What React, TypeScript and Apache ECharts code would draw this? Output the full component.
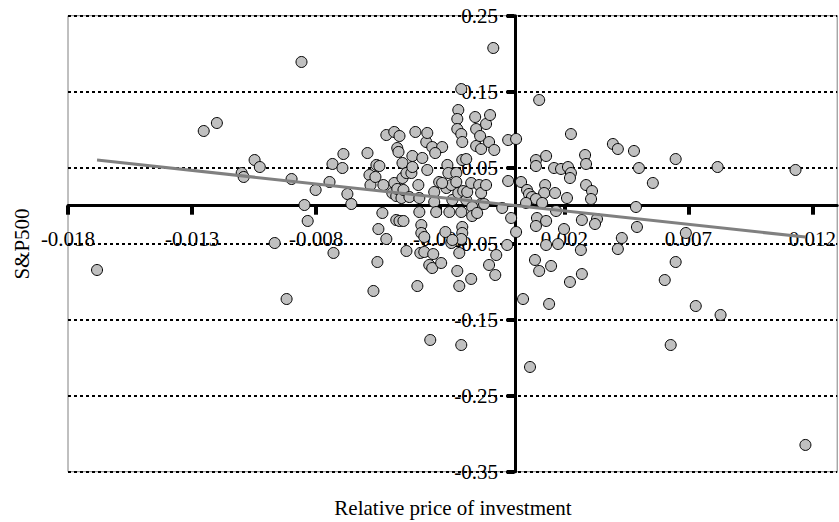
import React, { useEffect, useRef } from "react";
import * as echarts from "echarts";

// Relative price of investment (x) vs S&P500 (y)
const points: [number, number][] = [
  [-0.01683, -0.0846], [-0.01253, 0.0983], [-0.012, 0.1088], [-0.011, 0.043], [-0.01092, 0.0378],
  [-0.01048, 0.0601], [-0.01027, 0.0509], [-0.00967, -0.0491], [-0.00919, -0.1228], [-0.00899, 0.0351],
  [-0.00859, 0.1891], [-0.00847, 0.0009], [-0.00834, -0.0201], [-0.00802, 0.0207],
  [-0.00746, 0.0312], [-0.00734, 0.0549], [-0.0069, 0.068], [-0.00694, 0.0496], [-0.00674, 0.0154],
  [-0.00658, 0.0022], [-0.00593, 0.0693], [-0.00585, 0.0404], [-0.00581, 0.0272], [-0.00561, 0.0378],
  [-0.00557, 0.0536], [-0.00545, 0.0522], [-0.00517, 0.093], [-0.00485, 0.097], [-0.00464, 0.0917],
  [-0.00473, 0.0759], [-0.00468, 0.0707], [-0.00485, 0.0299], [-0.00529, 0.0272], [-0.00493, 0.0167],
  [-0.00477, 0.0128], [-0.00473, 0.022], [-0.00456, 0.0101], [-0.00452, 0.0562], [-0.00452, 0.0364],
  [-0.00436, 0.043], [-0.00448, 0.0207], [-0.00424, 0.0114], [-0.00416, 0.043], [-0.00412, 0.0654],
  [-0.00412, 0.0509], [-0.004, 0.097], [-0.00388, 0.0272], [-0.00384, 0.0101], [-0.00372, 0.0628],
  [-0.00356, 0.0838], [-0.00352, 0.0957], [-0.00352, 0.047],
  [-0.00332, 0.0772], [-0.00292, 0.0772], [-0.0032, 0.0693], [-0.00271, 0.0536], [-0.00324, 0.018],
  [-0.00304, 0.0312], [-0.00275, 0.0233], [-0.00267, 0.043], [-0.00251, 0.0075], [-0.00255, 0.0272],
  [-0.00235, 0.043], [-0.00235, 0.0312], [-0.00292, 0.0299], [-0.00227, 0.1259], [-0.00231, 0.1141],
  [-0.00231, 0.1009], [-0.00215, 0.0943], [-0.00211, 0.0838], [-0.00215, 0.1535], [-0.00211, 0.0601],
  [-0.00195, 0.0614], [-0.00227, 0.0167], [-0.00207, 0.0193], [-0.00195, 0.0075], [-0.00191, 0.018],
  [-0.00175, 0.0299], [-0.00159, 0.1167], [-0.00155, 0.1009], [-0.00155, 0.0786], [-0.00139, 0.0917],
  [-0.00135, 0.0746], [-0.00103, 0.0838], [-0.00082, 0.0733], [-0.00115, 0.1075], [-0.00099, 0.1193],
  [-0.00143, 0.0272], [-0.00135, 0.0167], [-0.00135, 0.0022], [-0.00115, 0.0272], [-0.00086, 0.2075],
  [-0.00026, 0.0864], [0.00006, 0.0878], [-0.00026, 0.0325], [0.00026, 0.0312], [-0.00324, 0.0049],
  [-0.00171, -0.0017],
  [-0.00384, -0.0083], [-0.00316, -0.0083], [-0.00263, -0.0083], [-0.00215, -0.0083], [-0.00171, -0.0136],
  [-0.00151, -0.0096], [-0.0005, -0.003], [-0.00014, -0.0162], [0.00006, -0.0346], [-0.00123, 0.0022],
  [-0.00533, -0.0096], [-0.00549, -0.0307], [-0.00517, -0.0438], [-0.0073, -0.0622], [-0.00553, -0.0741],
  [-0.00569, -0.1122], [-0.00477, -0.0188], [-0.00464, -0.0201], [-0.00448, -0.0201], [-0.00376, -0.0254],
  [-0.00376, -0.0359], [-0.00364, -0.0412], [-0.00436, -0.0596], [-0.0038, -0.0622], [-0.00364, -0.0609],
  [-0.00328, -0.0636], [-0.00344, -0.078], [-0.00332, -0.082], [-0.00296, -0.0754], [-0.00392, -0.1057],
  [-0.0034, -0.1767], [-0.00279, -0.0346], [-0.00255, -0.0491], [-0.00211, -0.028], [-0.00211, -0.0359],
  [-0.00215, -0.0438], [-0.00223, -0.0622], [-0.00231, -0.0859], [-0.00223, -0.1057], [-0.00215, -0.1833],
  [-0.00175, -0.0964], [-0.00103, -0.078], [-0.00074, -0.0649], [-0.00078, -0.0912], [-0.0003, -0.0517],
  [0.00034, -0.1228], [0.00062, -0.2122], [-0.00251, -0.0451],
  [0.00099, 0.1391], [0.00086, 0.0601], [0.00086, 0.0522], [0.00127, 0.0654], [0.00159, 0.0496],
  [0.00187, 0.0483], [0.00215, 0.0509], [0.00227, 0.043], [0.00223, 0.0364], [0.00227, 0.0943],
  [0.00284, 0.0667], [0.00288, 0.0549], [0.00123, 0.0272], [0.00119, 0.0167], [0.00163, 0.0167],
  [0.00211, 0.0101], [0.00288, 0.0272], [0.00312, 0.0193], [0.00308, 0.0088], [0.0005, 0.0207],
  [0.00058, 0.0154], [0.0007, 0.0114], [0.00086, 0.0088], [0.00111, 0.0036], [0.00046, 0.0036],
  [0.00167, -0.007], [0.0009, -0.0162], [0.00127, -0.0201], [0.00086, -0.0267], [0.00199, -0.0307],
  [0.00271, -0.0188], [0.00332, -0.0175], [0.00324, -0.0241], [0.00127, -0.0517], [0.00175, -0.0504],
  [0.00267, -0.0583], [0.00147, -0.0793], [0.00099, -0.0859], [0.00082, -0.0714], [0.00271, -0.0899],
  [0.00223, -0.1004], [0.00139, -0.1293],
  [0.00396, 0.0812], [0.00416, 0.0746], [0.00481, 0.072], [0.00501, 0.0496], [0.00557, 0.0299],
  [0.00649, 0.0614], [0.00818, 0.0509], [0.01132, 0.047], [0.00489, -0.0017], [0.00432, -0.0425],
  [0.00493, -0.028], [0.0069, -0.0359], [0.00416, -0.057], [0.00649, -0.0741], [0.00605, -0.0978],
  [0.0073, -0.132], [0.0083, -0.1438], [0.00629, -0.1833], [0.01172, -0.3148],
];

// Linear trend line end points
const trendX = [-0.01683, 0.01172];
const trendY = [0.06, -0.0413];

const xTicks = [-0.018, -0.013, -0.008, -0.003, 0.002, 0.007, 0.012];
const yTicks = [0.25, 0.15, 0.05, -0.05, -0.15, -0.25, -0.35];

const xTitle = "Relative price of investment";
const yTitle = "S&P500";

const FONT = "Liberation Serif";

const X_MIN = -0.018;
const X_MAX = 0.013;
const Y_MIN = -0.35;
const Y_MAX = 0.25;

const GRID = { left: 68, right: 1, top: 15.7, bottom: 50.3 };
const W = 839;
const H = 522;

// tick mark lengths, in pixels
const X_TICK_PX = 9;
const Y_TICK_PX = 8;

export default function App() {
  const ref = useRef<HTMLDivElement>(null);
  useEffect(() => {
    if (!ref.current) return;
    const chart = echarts.init(ref.current, undefined, { renderer: "svg" });
    const gw = W - GRID.left - GRID.right;
    const gh = H - GRID.top - GRID.bottom;
    // move the axes so that they cross at zero, as in the reference
    const xAxisOffset = -((0 - Y_MIN) / (Y_MAX - Y_MIN)) * gh;
    const yAxisOffset = -((0 - X_MIN) / (X_MAX - X_MIN)) * gw;
    // tick lengths expressed in axis units
    const xTickLen = (X_TICK_PX / gh) * (Y_MAX - Y_MIN);
    const yTickLen = (Y_TICK_PX / gw) * (X_MAX - X_MIN);
    const tickStyle = { color: "#000", type: "solid", width: 4 };
    const tickLines: any[] = [
      ...xTicks.map((v) => [
        { coord: [v, 0], lineStyle: tickStyle },
        { coord: [v, -xTickLen] },
      ]),
      ...yTicks.map((v) => [
        { coord: [0, v], lineStyle: tickStyle },
        { coord: [-yTickLen, v] },
      ]),
    ];
    chart.setOption({
      animation: false,
      backgroundColor: "#fff",
      grid: {
        ...GRID,
        show: true,
        borderColor: "#808080",
        borderWidth: 1,
        backgroundColor: "transparent",
      },
      xAxis: {
        type: "value",
        min: X_MIN,
        max: X_MAX,
        position: "bottom",
        offset: xAxisOffset,
        axisLine: { onZero: false, lineStyle: { color: "#000", width: 3 } },
        axisTick: { show: false },
        axisLabel: {
          customValues: xTicks,
          formatter: (v: number) => v.toFixed(3),
          fontFamily: FONT,
          fontSize: 21,
          color: "#000",
          margin: 23,
        },
        splitLine: { show: false },
      },
      yAxis: {
        type: "value",
        min: Y_MIN,
        max: Y_MAX,
        position: "left",
        offset: yAxisOffset,
        axisLine: { onZero: false, lineStyle: { color: "#000", width: 3 } },
        axisTick: { show: false },
        axisLabel: {
          customValues: yTicks,
          formatter: (v: number) => v.toFixed(2),
          fontFamily: FONT,
          fontSize: 21,
          color: "#000",
          margin: 17,
        },
        splitLine: { show: false },
      },
      series: [
        {
          type: "line",
          data: [],
          z: 1,
          markLine: {
            silent: true,
            symbol: ["none", "none"],
            label: { show: false },
            lineStyle: { color: "#000", type: [3, 3], width: 2 },
            data: yTicks.map((v) => ({ yAxis: v })),
          },
        },
        {
          type: "line",
          data: [],
          z: 2,
          markLine: {
            silent: true,
            symbol: ["none", "none"],
            label: { show: false },
            lineStyle: tickStyle,
            data: tickLines,
          },
        },
        {
          type: "scatter",
          data: points,
          symbol: "circle",
          symbolSize: 11,
          z: 6,
          itemStyle: { color: "#C0C0C0", borderColor: "#000", borderWidth: 1, opacity: 1 },
        },
        {
          type: "line",
          data: trendX.map((x, i) => [x, trendY[i]]),
          symbol: "none",
          z: 7,
          lineStyle: { color: "#808080", width: 3 },
        },
      ],
      graphic: [
        {
          type: "text",
          x: 453,
          y: 508,
          z: 10,
          style: {
            text: xTitle,
            textAlign: "center",
            textVerticalAlign: "middle",
            font: `21px "${FONT}"`,
            fill: "#000",
          },
        },
        {
          type: "text",
          x: 22,
          y: 244,
          z: 10,
          rotation: Math.PI / 2,
          style: {
            text: yTitle,
            textAlign: "center",
            textVerticalAlign: "middle",
            font: `21px "${FONT}"`,
            fill: "#000",
          },
        },
      ],
    });

    return () => chart.dispose();
  }, []);
  return (
    <div
      ref={ref}
      style={{ position: "fixed", left: 0, top: 0, width: W, height: H, background: "#fff" }}
    />
  );
}
